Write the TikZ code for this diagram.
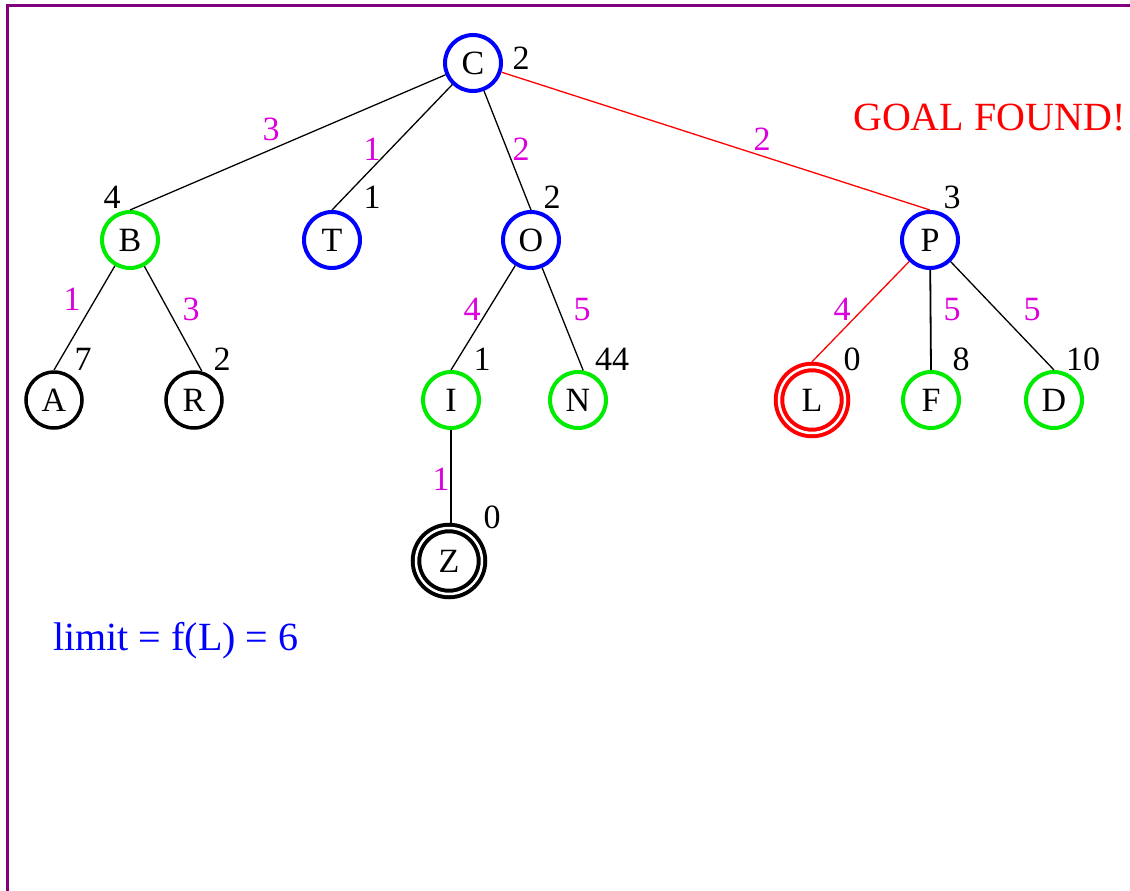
\documentclass[tikz,border=0pt]{standalone}
\usepackage{fontspec}
\setmainfont{Liberation Serif}
\definecolor{nblue}{RGB}{0,0,255}
\definecolor{ngreen}{RGB}{0,235,0}
\definecolor{nred}{RGB}{255,0,0}
\definecolor{wmag}{RGB}{220,0,220}
\definecolor{frame}{RGB}{128,0,128}
\begin{document}
\begin{tikzpicture}[x=1pt,y=-1pt,
  every node/.style={font=\fontsize{34}{40}\selectfont, inner sep=0pt},
  st/.style={circle, draw, line width=4pt, minimum size=56pt, inner sep=0pt, outer sep=2pt, fill=white},
  goalst/.style={circle, draw, line width=4pt, double=white, double distance=2.5pt, minimum size=66pt, inner sep=0pt, outer sep=5.2pt},
  edge/.style={line width=1.3pt, black},
  redge/.style={line width=1.3pt, nred},
  w/.style={text=wmag, anchor=base},
  h/.style={text=black, anchor=base},
  border/.style={line width=3pt, frame}]
\useasboundingbox (0,0) rectangle (1130,891);
\draw[border] (7.5,891) -- (7.5,5.8) -- (1130,5.8);
% nodes
\node[st, draw=nblue] (C) at (473,63) {C};
\node[st, draw=ngreen] (B) at (130,240) {B};
\node[st, draw=nblue] (T) at (332,240) {T};
\node[st, draw=nblue] (O) at (531,240) {O};
\node[st, draw=nblue] (P) at (930,240) {P};
\node[st, draw=black, line width=3.5pt] (A) at (54,400) {A};
\node[st, draw=black, line width=3.5pt] (R) at (194,400) {R};
\node[st, draw=ngreen] (I) at (451,400) {I};
\node[st, draw=ngreen] (N) at (578,400) {N};
\node[goalst, draw=nred] (L) at (812,400) {L};
\node[st, draw=ngreen] (F) at (931,400) {F};
\node[st, draw=ngreen] (D) at (1054,400) {D};
\node[goalst, draw=black] (Z) at (449,561) {Z};
% edges
\draw[edge] (C) -- (B.north);
\draw[edge] (C) -- (T.north);
\draw[edge] (C) -- (O.north);
\draw[redge] (C) -- (P.north);
\draw[edge] (B) -- (A.north);
\draw[edge] (B) -- (R.75);
\draw[edge] (O) -- (I.north);
\draw[edge] (O) -- (N.80);
\draw[redge] (P) -- (L.north);
\draw[edge, line width=1.8pt] (P) -- (F.north);
\draw[edge] (P) -- (D.north);
\draw[edge] (I.south) -- (I.south |- Z.north);
% weights
\node[w] (w1) at (271,140) {3};
\node[w] (w2) at (372,160) {1};
\node[w] (w3) at (521,160) {2};
\node[w] (w4) at (762,150) {2};
\node[w] (w5) at (72,310) {1};
\node[w] (w6) at (191,320) {3};
\node[w] (w7) at (472,320) {4};
\node[w] (w8) at (582,320) {5};
\node[w] (w9) at (842,320) {4};
\node[w] (w10) at (952,320) {5};
\node[w] (w11) at (1032,320) {5};
\node[w] (w12) at (441,490) {1};
% heuristic values
\node[h] (hC) at (521,70) {2};
\node[h] (hB) at (112,208) {4};
\node[h] (hT) at (372,208) {1};
\node[h] (hO) at (552,208) {2};
\node[h] (hP) at (952,208) {3};
\node[h] (hA) at (83,370) {7};
\node[h] (hR) at (222,370) {2};
\node[h] (hI) at (482,370) {1};
\node[h] (hN) at (612,370) {44};
\node[h] (hL) at (852,370) {0};
\node[h] (hF) at (961,370) {8};
\node[h] (hD) at (1083,370) {10};
\node[h] (hZ) at (492,528) {0};
% texts
\node[text=nred, anchor=base west, font=\fontsize{40}{44}\selectfont] (goal) at (853,130) {GOAL FOUND!};
\node[text=nblue, anchor=base west, font=\fontsize{40}{44}\selectfont] (limit) at (53,650) {limit = f(L) = 6};
\end{tikzpicture}
\end{document}
